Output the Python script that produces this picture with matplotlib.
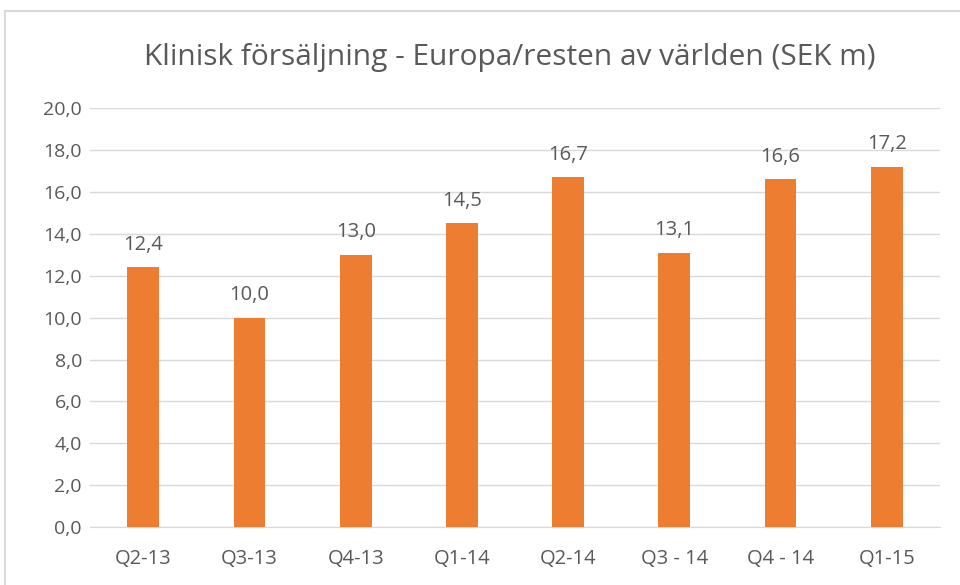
import matplotlib.pyplot as plt
from matplotlib.lines import Line2D

# data
quarters = ['Q2-13', 'Q3-13', 'Q4-13', 'Q1-14', 'Q2-14', 'Q3 - 14', 'Q4 - 14', 'Q1-15']
sales = [12.4, 10.0, 13.0, 14.5, 16.7, 13.1, 16.6, 17.2]
yticks = [0, 2, 4, 6, 8, 10, 12, 14, 16, 18, 20]

plt.rcParams['font.family'] = ['Open Sans', 'DejaVu Sans']
grey = '#595959'

fig = plt.figure(figsize=(9.6, 5.85), dpi=100)
ax = fig.add_axes([0.094, 0.099, 0.885, 0.716])

x = range(len(quarters))
bars = ax.bar(x, sales, width=0.3, color='#ED7D31', zorder=3)
for xi, v in zip(x, sales):
    ax.text(xi, v + 0.6, f'{v:.1f}'.replace('.', ','), ha='center', va='bottom',
            fontsize=14.5, color=grey)

ax.set_xlim(-0.5, len(quarters) - 0.5)
ax.set_ylim(0, 20)
ax.set_yticks(yticks)
ax.set_yticklabels([f'{t:.1f}'.replace('.', ',') for t in yticks])
ax.set_xticks(list(x))
ax.set_xticklabels(quarters)
ax.tick_params(axis='both', length=0, colors=grey)
ax.tick_params(axis='x', pad=16, labelsize=14.5)
ax.tick_params(axis='y', pad=6, labelsize=14)
ax.grid(axis='y', color='#D9D9D9', linewidth=1, zorder=0)
for s in ['top', 'right', 'left']:
    ax.spines[s].set_visible(False)
ax.spines['bottom'].set_color('#D9D9D9')

fig.text(0.531, 1 - 57 / 585, 'Klinisk försäljning - Europa/resten av världen (SEK m)',
         ha='center', va='center', fontsize=21.5, color=grey)

# outer chart border
fig.add_artist(Line2D([5 / 960, 5 / 960], [0, 1 - 11 / 585], transform=fig.transFigure,
                      color='#D9D9D9', linewidth=1.5))
fig.add_artist(Line2D([5 / 960, 1], [1 - 11 / 585, 1 - 11 / 585], transform=fig.transFigure,
                      color='#D9D9D9', linewidth=1.5))

fig.savefig('out.png')
